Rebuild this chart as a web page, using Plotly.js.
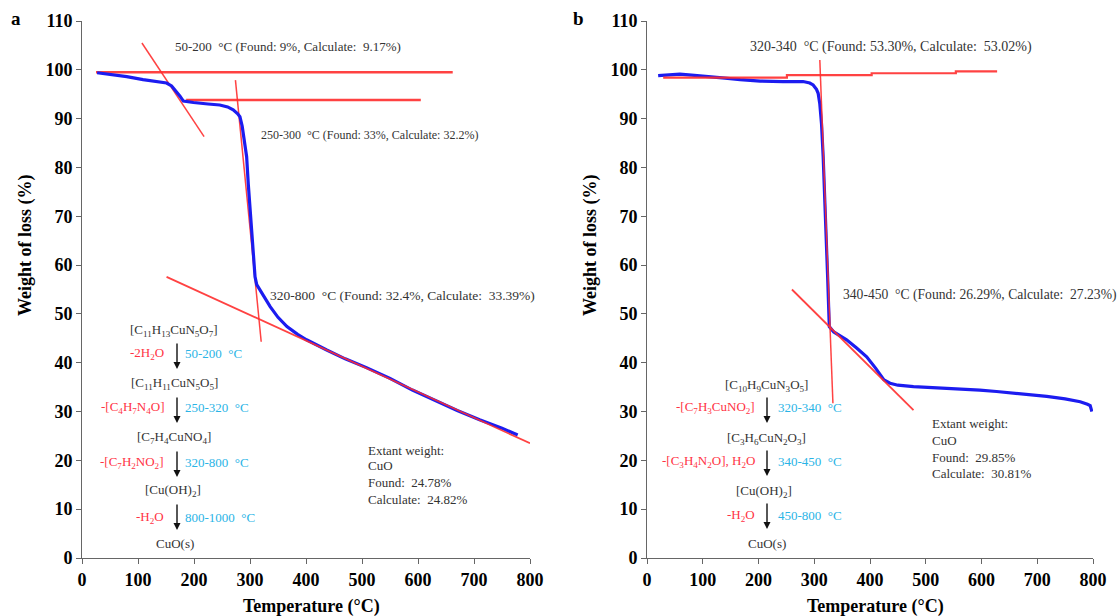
<!DOCTYPE html>
<html><head><meta charset="utf-8">
<script src="https://cdn.plot.ly/plotly-3.0.1.min.js"></script>
<style>html,body{margin:0;padding:0;background:#fff}#c{width:1117px;height:616px}</style>
</head><body><div id="c"></div>
<script>
// ---- Panel a: TGA curve ----
const aTemp = [27,50,80,109,135,151,160,166,175,181,190,199,225,246,260,270,278,282,286,290,294,297,300,303,306,309,312,318,327,336,350,366,385,401,437,470,508,550,590,627,670,710,750,778];
const aWeight = [99.4,99.1,98.6,98.0,97.6,97.3,96.7,95.9,94.6,93.6,93.4,93.3,93.0,92.8,92.4,91.8,91.0,90.4,88.5,85.5,82.2,76.5,72.0,66.5,61.5,57.6,56.0,54.8,53.0,51.5,49.3,47.4,45.8,44.7,42.6,40.8,39.0,36.8,34.4,32.4,30.2,28.3,26.6,25.2];
// Panel a: tangent construction lines
const aL1x = [25, 662],  aL1y = [99.5, 99.5];
const aL2x = [107, 218], aL2y = [105.5, 86.3];
const aL3x = [186, 605], aL3y = [93.8, 93.8];
const aL4x = [274, 320], aL4y = [97.9, 44.3];
const aL5x = [151, 800], aL5y = [57.6, 23.5];

// ---- Panel b: TGA curve ----
const bTemp = [20,40,59,80,107,140,167,203,244,280,292,298,304,307,310,313,316,318,320,322,324,326,327,335,358,376,394,410,418,425,436,450,478,538,597,627,680,717,750,777,790,795,798];
const bWeight = [98.8,99.0,99.1,98.9,98.7,98.3,98.0,97.7,97.6,97.6,97.3,96.9,96.0,95.2,93.0,89.0,82.2,77.0,71.1,64.3,57.6,50.8,47.4,46.3,44.7,43.0,41.2,38.9,37.6,36.5,35.8,35.4,35.1,34.8,34.4,34.1,33.6,33.1,32.6,32.0,31.5,31.2,30.0];
// Panel b: tangent construction lines
const bL1x = [29, 251, 251, 403, 403, 554, 554, 628];
const bL1y = [98.4, 98.4, 98.9, 98.9, 99.3, 99.3, 99.7, 99.7];
const bL2x = [310, 333.5], bL2y = [102, 31.7];
const bL3x = [260, 478],   bL3y = [55.0, 30.3];

const xTicks = [0,100,200,300,400,500,600,700,800];
const yTicks = [0,10,20,30,40,50,60,70,80,90,100,110];

const W = 1117, H = 616;
const X = p => p / W, Y = p => 1 - p / H;
const SERIF = 'Liberation Serif';
const BLUE = '#1c1cf0', RED = 'rgba(255,45,45,0.9)';
const TXT = '#333333', RTXT = '#ff3344', CTXT = '#2ab4e6';

function red(x, y, xa, ya, w) {
  return {x, y, xaxis: xa, yaxis: ya, mode: 'lines', line: {color: RED, width: w}, hoverinfo: 'skip', showlegend: false};
}
function blue(x, y, xa, ya) {
  return {x, y, xaxis: xa, yaxis: ya, mode: 'lines', line: {color: BLUE, width: 3.2}, hoverinfo: 'skip', showlegend: false};
}
const traces = [
  red(aL1x, aL1y, 'x', 'y', 2.5), red(aL3x, aL3y, 'x', 'y', 2.5),
  red(aL2x, aL2y, 'x', 'y', 1.5), red(aL4x, aL4y, 'x', 'y', 1.5),
  blue(aTemp, aWeight, 'x', 'y'),
  red(aL5x, aL5y, 'x', 'y', 1.8),
  blue(bTemp, bWeight, 'x2', 'y2'),
  red(bL1x, bL1y, 'x2', 'y2', 2.2), red(bL2x, bL2y, 'x2', 'y2', 1.5), red(bL3x, bL3y, 'x2', 'y2', 1.8)
];

function T(text, px, py, opt) {
  opt = opt || {};
  return Object.assign({
    text, xref: 'paper', yref: 'paper', x: X(px), y: Y(py), showarrow: false,
    xanchor: opt.xa || 'left', yanchor: 'middle',
    font: {family: SERIF, size: opt.size || 13, color: opt.color || TXT, weight: opt.weight || 'normal'}
  }, opt.extra || {});
}
function ARR(px, y0, y1) {
  return {text: '', xref: 'paper', yref: 'paper', x: X(px), y: Y(y1), ax: 0, ay: -(y1 - y0),
    showarrow: true, arrowhead: 2, arrowsize: 1, arrowwidth: 1.4, arrowcolor: '#111', standoff: 0};
}
const ann = [
  T('a', 16, 18, {xa: 'center', size: 19, color: '#000', weight: 'bold'}),
  T('b', 578, 18, {xa: 'center', size: 19, color: '#000', weight: 'bold'}),
  T('50-200  °C (Found: 9%, Calculate:  9.17%)', 173, 46),
  T('250-300  °C (Found: 33%, Calculate: 32.2%)', 259, 135, {size: 12}),
  T('320-800  °C (Found: 32.4%, Calculate:  33.39%)', 268, 295, {size: 13.5}),
  T('[C<sub>11</sub>H<sub>13</sub>CuN<sub>5</sub>O<sub>7</sub>]', 174, 330, {xa: 'center'}),
  T('[C<sub>11</sub>H<sub>11</sub>CuN<sub>5</sub>O<sub>5</sub>]', 174, 383, {xa: 'center'}),
  T('[C<sub>7</sub>H<sub>4</sub>CuNO<sub>4</sub>]', 174, 437, {xa: 'center'}),
  T('[Cu(OH)<sub>2</sub>]', 173, 490, {xa: 'center'}),
  T('CuO(s)', 175, 543, {xa: 'center'}),
  T('-2H<sub>2</sub>O', 166, 353, {xa: 'right', color: RTXT}),
  T('-[C<sub>4</sub>H<sub>7</sub>N<sub>4</sub>O]', 166, 407, {xa: 'right', color: RTXT}),
  T('-[C<sub>7</sub>H<sub>2</sub>NO<sub>2</sub>]', 166, 462, {xa: 'right', color: RTXT}),
  T('-H<sub>2</sub>O', 166, 517, {xa: 'right', color: RTXT}),
  T('50-200  °C', 183, 353, {color: CTXT}),
  T('250-320  °C', 183, 407, {color: CTXT}),
  T('320-800  °C', 183, 462, {color: CTXT}),
  T('800-1000  °C', 183, 517, {color: CTXT}),
  ARR(177, 342, 369), ARR(177, 396, 423), ARR(177, 450, 477), ARR(177, 503, 530),
  T('Extant weight:', 366, 450), T('CuO', 366, 466), T('Found:  24.78%', 366, 482), T('Calculate:  24.82%', 366, 499),

  T('320-340  °C (Found: 53.30%, Calculate:  53.02%)', 748, 47, {size: 14}),
  T('340-450  °C (Found: 26.29%, Calculate:  27.23%)', 841, 295, {size: 13.6}),
  T('[C<sub>10</sub>H<sub>9</sub>CuN<sub>3</sub>O<sub>5</sub>]', 766, 385, {xa: 'center'}),
  T('[C<sub>3</sub>H<sub>6</sub>CuN<sub>2</sub>O<sub>3</sub>]', 766, 438, {xa: 'center'}),
  T('[Cu(OH)<sub>2</sub>]', 764, 491, {xa: 'center'}),
  T('CuO(s)', 767, 543, {xa: 'center'}),
  T('-[C<sub>7</sub>H<sub>3</sub>CuNO<sub>2</sub>]', 757, 407, {xa: 'right', color: RTXT}),
  T('-[C<sub>3</sub>H<sub>4</sub>N<sub>2</sub>O], H<sub>2</sub>O', 757, 461, {xa: 'right', color: RTXT}),
  T('-H<sub>2</sub>O', 757, 515, {xa: 'right', color: RTXT}),
  T('320-340  °C', 776, 407, {color: CTXT}),
  T('340-450  °C', 776, 461, {color: CTXT}),
  T('450-800  °C', 776, 515, {color: CTXT}),
  ARR(767, 396, 423), ARR(767, 449, 476), ARR(767, 502, 529),
  T('Extant weight:', 930, 423), T('CuO', 930, 440), T('Found:  29.85%', 930, 457), T('Calculate:  30.81%', 930, 473),

  T('Temperature (°C)', 311, 606, {xa: 'center', size: 18, color: '#000', weight: 'bold'}),
  T('Temperature (°C)', 875, 606, {xa: 'center', size: 18, color: '#000', weight: 'bold'}),
  T('Weight of loss (%)', 25, 245, {xa: 'center', size: 18, color: '#000', weight: 'bold', extra: {textangle: -90}}),
  T('Weight of loss (%)', 590, 245, {xa: 'center', size: 18, color: '#000', weight: 'bold', extra: {textangle: -90}})
];

function xax(dom, anchor) {
  return {domain: dom, anchor, range: [0, 800], tickvals: xTicks, ticktext: xTicks.map(String),
    showline: true, linecolor: '#666', linewidth: 1, ticks: 'outside', ticklen: 5, tickcolor: '#666',
    showgrid: false, zeroline: false, fixedrange: true,
    tickfont: {family: SERIF, size: 18, color: '#000', weight: 'bold'}};
}
function yax(anchor) {
  return {domain: [Y(558), Y(21)], anchor, range: [0, 110], tickvals: yTicks, ticktext: yTicks.map(String),
    showline: true, linecolor: '#666', linewidth: 1, ticks: 'outside', ticklen: 5, tickcolor: '#666',
    showgrid: false, zeroline: false, fixedrange: true,
    tickfont: {family: SERIF, size: 18, color: '#000', weight: 'bold'}};
}
const layout = {
  width: W, height: H, margin: {l: 0, r: 0, t: 0, b: 0}, paper_bgcolor: '#fff', plot_bgcolor: 'rgba(0,0,0,0)',
  showlegend: false, font: {family: SERIF},
  xaxis: xax([X(82), X(530)], 'y'),
  yaxis: yax('x'),
  xaxis2: xax([X(647), X(1093)], 'y2'),
  yaxis2: yax('x2'),
  annotations: ann
};
Plotly.newPlot('c', traces, layout, {staticPlot: true, displayModeBar: false});
</script></body></html>
